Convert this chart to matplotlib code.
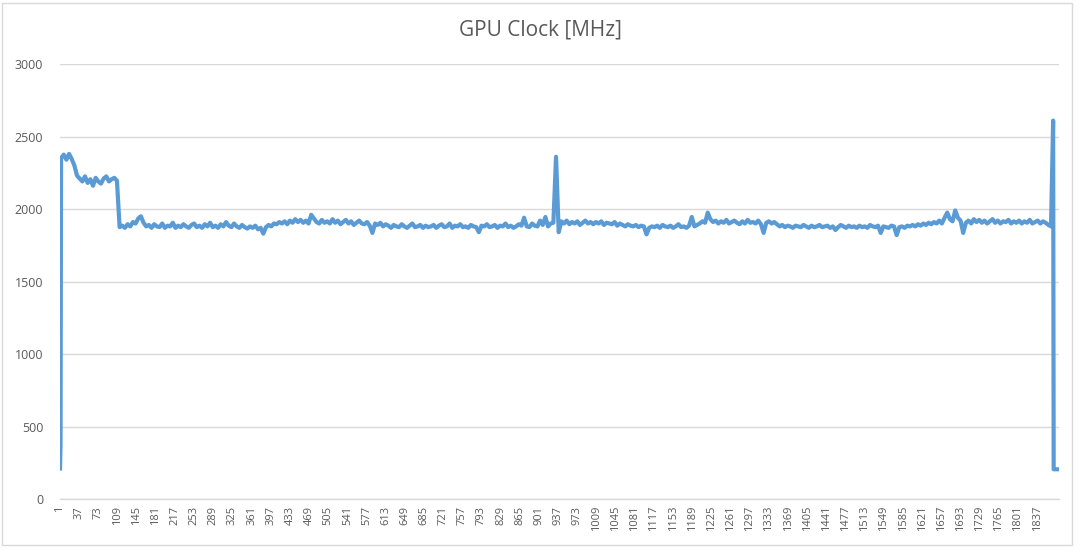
import matplotlib.pyplot as plt
from matplotlib.patches import Rectangle

# GPU clock log, sample index -> MHz (every 5th sample in the body)
start_idx = [1, 2]
start_clock = [210, 370]

body_first, body_step = 3, 5
body_clock = [
    2350, 2375, 2340, 2380, 2345, 2300, 2230, 2210, 2190, 2225, 2180, 2205, 2160, 2215, 2190, 2175, 2210, 2225, 2190, 2205,
    2215, 2195, 1875, 1885, 1870, 1895, 1880, 1910, 1900, 1935, 1950, 1905, 1880, 1890, 1870, 1895, 1880, 1875, 1900, 1870,
    1885, 1880, 1905, 1870, 1885, 1875, 1895, 1880, 1870, 1890, 1900, 1875, 1885, 1870, 1895, 1880, 1905, 1875, 1885, 1870,
    1895, 1880, 1910, 1885, 1875, 1900, 1880, 1870, 1890, 1875, 1865, 1880, 1870, 1885, 1860, 1870, 1830, 1875, 1890, 1880,
    1900, 1895, 1910, 1900, 1915, 1895, 1920, 1905, 1930, 1910, 1925, 1905, 1920, 1900, 1960, 1935, 1910, 1900, 1925, 1905,
    1915, 1900, 1930, 1905, 1920, 1895, 1910, 1925, 1900, 1915, 1890, 1905, 1920, 1900, 1895, 1910, 1885, 1835, 1900, 1890,
    1905, 1880, 1895, 1885, 1870, 1890, 1880, 1875, 1895, 1880, 1870, 1885, 1900, 1875, 1880, 1890, 1870, 1885, 1875, 1880,
    1890, 1870, 1885, 1895, 1875, 1880, 1900, 1870, 1885, 1880, 1895, 1875, 1880, 1870, 1890, 1880, 1875, 1840, 1885, 1880,
    1895, 1875, 1880, 1890, 1870, 1885, 1880, 1900, 1875, 1885, 1870, 1880, 1895, 1885, 1940, 1880, 1875, 1900, 1885, 1880,
    1920, 1890, 1945, 1880, 1900, 1905, 2360, 1840, 1915, 1900, 1920, 1895, 1910, 1900, 1915, 1890, 1905, 1920, 1900, 1910,
    1895, 1910, 1900, 1915, 1890, 1905, 1900, 1895, 1910, 1885, 1900, 1890, 1880, 1895, 1885, 1880, 1890, 1875, 1885, 1880,
    1825, 1870, 1880, 1875, 1885, 1870, 1890, 1880, 1875, 1885, 1870, 1880, 1895, 1875, 1880, 1870, 1885, 1945, 1880, 1890,
    1900, 1915, 1905, 1975, 1930, 1910, 1920, 1900, 1915, 1905, 1925, 1900, 1910, 1920, 1905, 1895, 1915, 1900, 1925, 1905,
    1910, 1900, 1920, 1895, 1835, 1905, 1915, 1900, 1910, 1895, 1880, 1890, 1875, 1885, 1880, 1870, 1885, 1880, 1875, 1890,
    1880, 1870, 1885, 1875, 1880, 1890, 1875, 1880, 1885, 1870, 1880, 1855, 1875, 1890, 1880, 1870, 1885, 1875, 1880, 1870,
    1885, 1875, 1880, 1870, 1890, 1880, 1875, 1885, 1835, 1880, 1875, 1870, 1885, 1880, 1820, 1875, 1880, 1870, 1885, 1880,
    1890, 1880, 1895, 1885, 1900, 1890, 1905, 1895, 1910, 1900, 1920, 1900, 1940, 1975, 1930, 1915, 1990, 1940, 1920, 1835,
    1905, 1920, 1900, 1930, 1910, 1925, 1905, 1920, 1900, 1915, 1930, 1905, 1920, 1900, 1915, 1910, 1925, 1900, 1915, 1905,
    1920, 1900, 1915, 1905, 1925, 1900, 1910, 1920, 1900, 1915, 1905, 1890, 1880,
]

end_idx = [1867, 1868, 1878]
end_clock = [2610, 205, 205]

body_idx = [body_first + body_step * k for k in range(len(body_clock))]
idx = start_idx + body_idx + end_idx
clock = start_clock + body_clock + end_clock

xtick_pos = list(range(1, 1838, 36))
yticks = [0, 500, 1000, 1500, 2000, 2500, 3000]

grey_txt = '#595959'
grid_col = '#D9D9D9'

fig = plt.figure(figsize=(10.8, 5.55), dpi=100)
ax = fig.add_axes([60 / 1080, 1 - 499 / 555, (1059 - 60) / 1080, (499 - 64) / 555])

ax.plot(idx, clock, color='#5B9BD5', linewidth=3.0, solid_joinstyle='round')

ax.set_xlim(1, 1878)
ax.set_ylim(0, 3000)
ax.set_yticks(yticks)
ax.set_yticklabels([str(v) for v in yticks], fontsize=9, color=grey_txt, family='Open Sans')
ax.set_xticks(xtick_pos)
ax.set_xticklabels([str(v) for v in xtick_pos], rotation=90, fontsize=8,
                   color=grey_txt, family='Open Sans', va='top', ha='center')
ax.tick_params(axis='y', length=0, pad=12)
ax.tick_params(axis='x', length=0, pad=5)
ax.grid(axis='y', color=grid_col, linewidth=1)
ax.set_axisbelow(True)
for s in ['top', 'right', 'left']:
    ax.spines[s].set_visible(False)
ax.spines['bottom'].set_color(grid_col)
ax.spines['bottom'].set_linewidth(1)

fig.text(0.5, 1 - 30 / 555, 'GPU Clock [MHz]', ha='center', va='center',
         fontsize=15, color=grey_txt, family='Open Sans')

# chart area border
fig.patches.append(Rectangle((2 / 1080, 10 / 555), 1070 / 1080, 542 / 555,
                             transform=fig.transFigure, fill=False,
                             edgecolor=grid_col, linewidth=1))

fig.savefig('out.png', dpi=100, facecolor='white')
